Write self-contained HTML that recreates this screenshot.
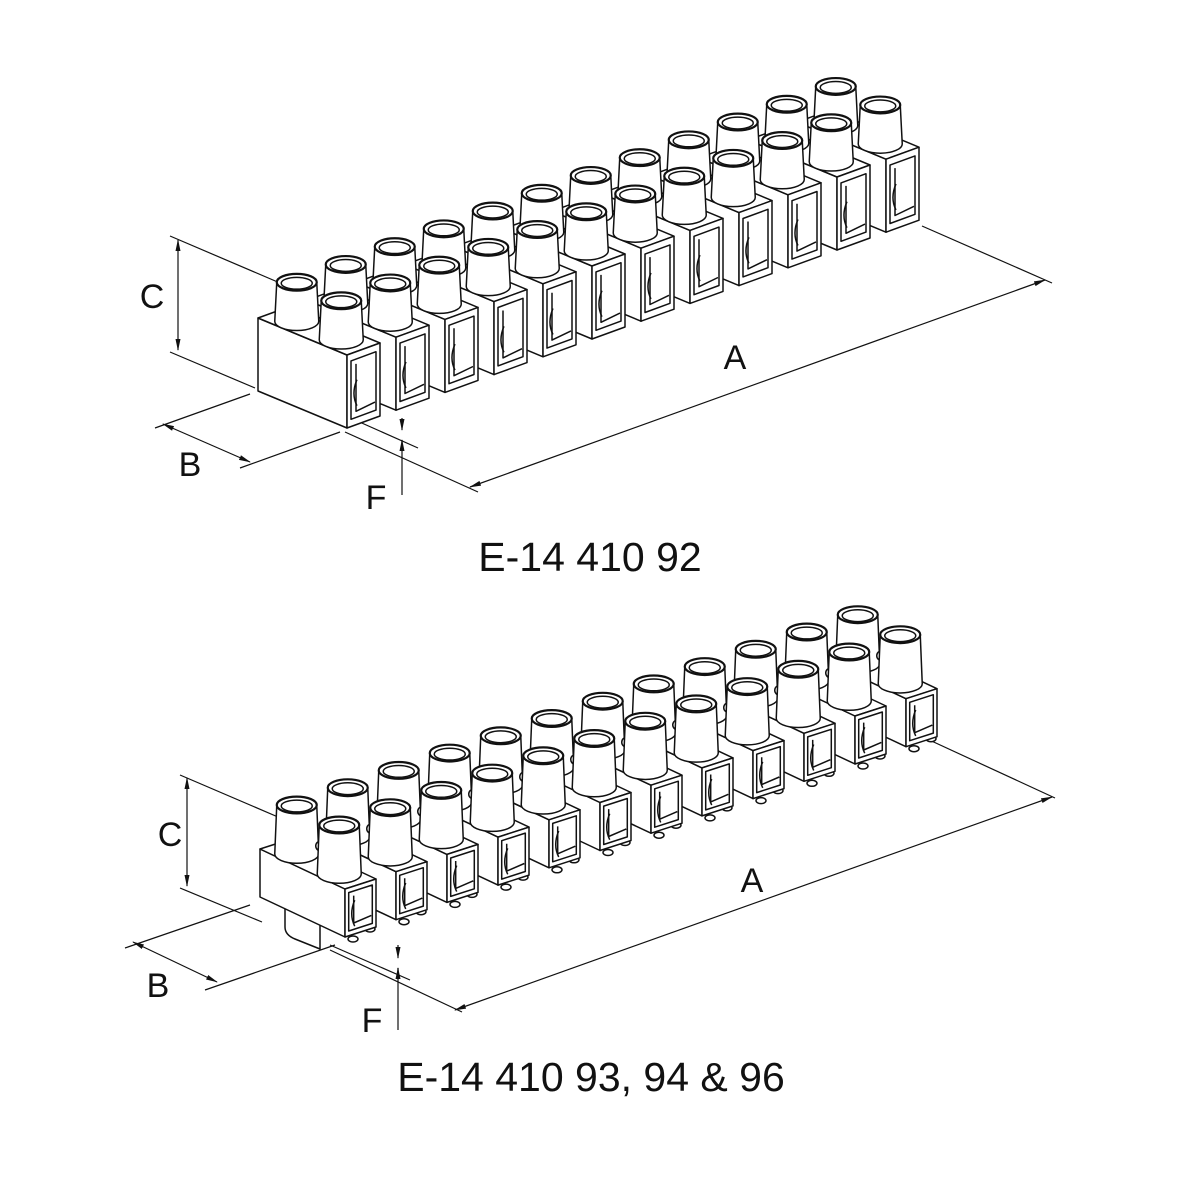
<!DOCTYPE html>
<html><head><meta charset="utf-8"><style>
html,body{margin:0;padding:0;background:#fff;}
svg{display:block;}
text{font-family:"Liberation Sans",Arial,sans-serif;fill:#111;}
</style></head><body>
<svg id="s" width="1181" height="1181" viewBox="0 0 1181 1181" xmlns="http://www.w3.org/2000/svg">
<defs>
<marker id="ar" markerWidth="12" markerHeight="8" refX="11" refY="4" orient="auto-start-reverse" markerUnits="userSpaceOnUse">
<path d="M0,1.5 L12,4 L0,6.5 z" fill="#111"/></marker>
</defs>
<g id="dims" stroke="#111" stroke-width="1.2" fill="none">
<line x1="170" y1="236" x2="280" y2="283"/>
<line x1="170" y1="352" x2="255" y2="388"/>
<line x1="178" y1="240" x2="178" y2="350" marker-start="url(#ar)" marker-end="url(#ar)"/>
<line x1="250" y1="394" x2="155" y2="428"/>
<line x1="340" y1="432" x2="240" y2="468"/>
<line x1="163" y1="424" x2="250" y2="462" marker-start="url(#ar)" marker-end="url(#ar)"/>
<line x1="355" y1="420" x2="418" y2="448"/>
<line x1="402" y1="418" x2="402" y2="430" marker-end="url(#ar)"/>
<line x1="402" y1="450" x2="402" y2="440" marker-end="url(#ar)"/>
<line x1="402" y1="440" x2="402" y2="495"/>
<line x1="345" y1="432" x2="478" y2="492"/>
<line x1="922" y1="226" x2="1052" y2="283"/>
<line x1="470" y1="487" x2="1045" y2="280" marker-start="url(#ar)" marker-end="url(#ar)"/>
<line x1="180" y1="775" x2="285" y2="820"/>
<line x1="180" y1="888" x2="262" y2="922"/>
<line x1="187" y1="778" x2="187" y2="886" marker-start="url(#ar)" marker-end="url(#ar)"/>
<line x1="250" y1="905" x2="125" y2="948"/>
<line x1="335" y1="945" x2="205" y2="990"/>
<line x1="133" y1="942" x2="217" y2="982" marker-start="url(#ar)" marker-end="url(#ar)"/>
<line x1="330" y1="945" x2="410" y2="980"/>
<line x1="398" y1="945" x2="398" y2="958" marker-end="url(#ar)"/>
<line x1="398" y1="978" x2="398" y2="968" marker-end="url(#ar)"/>
<line x1="398" y1="968" x2="398" y2="1030"/>
<line x1="330" y1="950" x2="462" y2="1012"/>
<line x1="925" y1="738" x2="1055" y2="798"/>
<line x1="455" y1="1010" x2="1052" y2="797" marker-start="url(#ar)" marker-end="url(#ar)"/>
</g>
<g id="draw" stroke="#111" stroke-width="1.5" fill="#fff" stroke-linejoin="round"></g>
<text x="152" y="308" font-size="34" text-anchor="middle">C</text>
<text x="190" y="476" font-size="34" text-anchor="middle">B</text>
<text x="376" y="509" font-size="34" text-anchor="middle">F</text>
<text x="735" y="369" font-size="34" text-anchor="middle">A</text>
<text x="590" y="571" font-size="41" text-anchor="middle">E-14 410 92</text>
<text x="170" y="846" font-size="34" text-anchor="middle">C</text>
<text x="158" y="997" font-size="34" text-anchor="middle">B</text>
<text x="372" y="1032" font-size="34" text-anchor="middle">F</text>
<text x="752" y="892" font-size="34" text-anchor="middle">A</text>
<text x="591" y="1091" font-size="41" text-anchor="middle">E-14 410 93, 94 &amp; 96</text>
</svg>
<script>
(function(){
var g=document.getElementById('draw'),NS='http://www.w3.org/2000/svg';
function el(t,a){var e=document.createElementNS(NS,t);for(var k in a)e.setAttribute(k,a[k]);g.appendChild(e);return e;}
function pt(p){return p[0].toFixed(1)+','+p[1].toFixed(1);}
function add(){var r=[0,0];for(var i=0;i<arguments.length;i++){r[0]+=arguments[i][0];r[1]+=arguments[i][1];}return r;}
function mul(v,s){return [v[0]*s,v[1]*s];}
function poly(ps,extra){var a={points:ps.map(pt).join(' ')};for(var k in extra)a[k]=extra[k];return el('polygon',a);}
function cyl(b,h,rb,rt){
  var t=[b[0],b[1]-h],ryb=rb*0.42,ryt=rt*0.42;
  el('path',{d:'M'+(t[0]-rt)+','+t[1]+' L'+(b[0]-rb)+','+b[1]+' A'+rb+','+ryb+' 0 0 0 '+(b[0]+rb)+','+b[1]+' L'+(t[0]+rt)+','+t[1]+' Z'});
  el('ellipse',{cx:t[0],cy:t[1],rx:rt,ry:ryt,'stroke-width':2.2});
  el('ellipse',{cx:t[0],cy:t[1]+1,rx:rt-4.5,ry:ryt-2.5,'stroke-width':1.5});
}
function strip(P0,step,W,H,D,ch,n,bottom){
  for(var i=n-1;i>=0;i--){
    var P=add(P0,mul(step,i));
    if(bottom){
      el('ellipse',{cx:P[0]+8,cy:P[1]+2,rx:5,ry:3});
      el('ellipse',{cx:P[0]+W[0]-6,cy:P[1]+W[1]+2,rx:5,ry:3});
      if(i==0){
        el('path',{d:'M'+(P[0]-60)+','+(P[1]-35)+' L'+(P[0]-60)+','+(P[1]-10)+' Q'+(P[0]-60)+','+(P[1]-2)+' '+(P[0]-50)+','+(P[1]+2)+' L'+(P[0]-25)+','+(P[1]+12)+' L'+(P[0]-25)+','+(P[1]-20)+' Z'});
      }
    }
    poly([P,add(P,D),add(P,D,H),add(P,H)]);
    poly([add(P,H),add(P,H,W),add(P,H,W,D),add(P,H,D)]);
    poly([P,add(P,W),add(P,W,H),add(P,H)]);
    var a=0.12,b2=0.88,c=0.1,d=0.9;
    poly([add(P,mul(W,a),mul(H,c)),add(P,mul(W,b2),mul(H,c)),add(P,mul(W,b2),mul(H,d)),add(P,mul(W,a),mul(H,d))]);
    var q1=add(P,mul(W,a),mul(H,c)),q2=add(P,mul(W,b2),mul(H,c)),q4=add(P,mul(W,a),mul(H,d));
    el('polyline',{fill:'none',points:[add(q4,[5,3]),add(q1,[5,-8]),add(q2,[-1,-8])].map(pt).join(' ')});
    var m=add(q1,mul(H,0.35),[5,0]);
    el('path',{fill:'none',d:'M'+(m[0]+1)+','+(m[1]-14)+' Q'+(m[0]-5)+','+m[1]+' '+(m[0]+1)+','+(m[1]+12)});
    var top=add(P,H,mul(W,0.5));
    var rb=22,rt=20;
    cyl(add(top,mul(D,0.75)),ch,rb,rt);
    if(bottom){el('circle',{cx:top[0]+mul(D,0.75)[0]+rb+2,cy:top[1]+mul(D,0.75)[1]-8,r:5});}
    cyl(add(top,mul(D,0.25)),ch,rb,rt);
  }
}
strip([347,428],[49,-17.8],[33,-12],[0,-73],[-89,-37],39,12,false);
strip([345,937],[51,-17.3],[31,-10],[0,-48],[-85,-40],49,12,true);
})();
</script>
</body></html>
